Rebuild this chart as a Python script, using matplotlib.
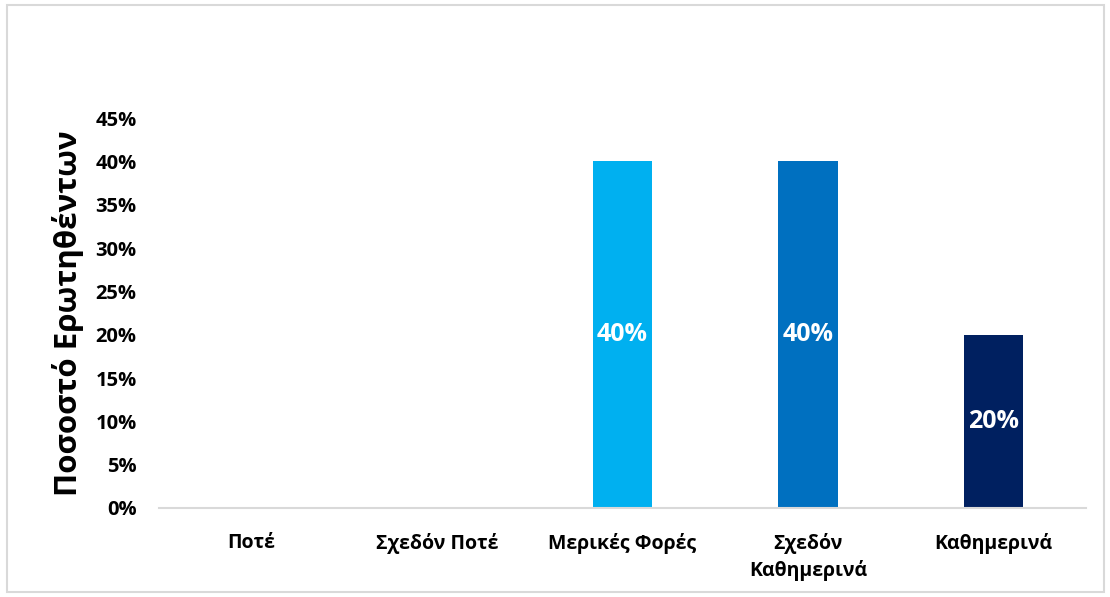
import matplotlib.pyplot as plt
from matplotlib.patches import Rectangle
from matplotlib.ticker import FuncFormatter

plt.rcParams['font.family'] = ['Open Sans', 'DejaVu Sans']

categories = ['Ποτέ', 'Σχεδόν Ποτέ', 'Μερικές Φορές', 'Σχεδόν\nΚαθημερινά', 'Καθημερινά']
shares = [0, 0, 40, 40, 20]
colors = ['#00B0F0', '#00B0F0', '#00B0F0', '#0070C0', '#002060']
yticks = [0, 5, 10, 15, 20, 25, 30, 35, 40, 45]

fig = plt.figure(figsize=(11.1, 5.97), dpi=100)
ax = fig.add_axes([0.1432, 0.1491, 0.8352, 0.6532])

x = list(range(len(categories)))
bars = ax.bar(x, shares, width=0.32, color=colors)

for b, v in zip(bars, shares):
    if v > 0:
        ax.text(b.get_x() + b.get_width() / 2, v / 2, f'{v}%', ha='center', va='center',
                color='white', fontsize=18, fontweight='bold')

ax.set_xlim(-0.5, len(categories) - 0.5)
ax.set_ylim(0, 45)
ax.set_yticks(yticks)
ax.yaxis.set_major_formatter(FuncFormatter(lambda v, p: f'{v:.0f}%'))
ax.set_xticks(x)
ax.set_xticklabels(categories, fontsize=14, fontweight='bold', linespacing=1.35)
for lbl in ax.get_yticklabels():
    lbl.set_fontsize(14.5)
    lbl.set_fontweight('bold')

ax.tick_params(axis='both', length=0)
ax.tick_params(axis='x', pad=18)
ax.tick_params(axis='y', pad=16)
for s in ['top', 'right', 'left']:
    ax.spines[s].set_visible(False)
ax.spines['bottom'].set_color('#d9d9d9')
ax.spines['bottom'].set_linewidth(1.5)

ax.set_ylabel('Ποσοστό Ερωτηθέντων', fontsize=22.5, fontweight='bold', labelpad=8)

# thin grey frame around the whole chart
fig.patches.append(Rectangle((0.0065, 0.008), 0.988, 0.983, transform=fig.transFigure,
                             fill=False, edgecolor='#d9d9d9', linewidth=1.5))

fig.savefig('out.png', dpi=100)
